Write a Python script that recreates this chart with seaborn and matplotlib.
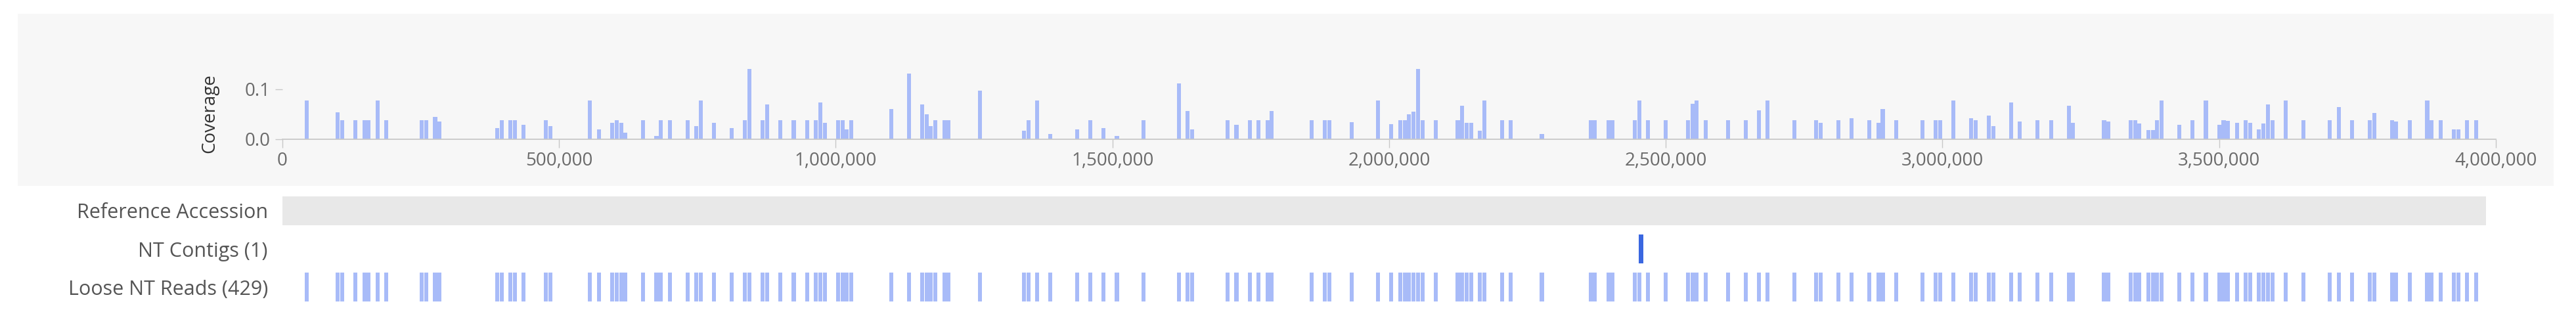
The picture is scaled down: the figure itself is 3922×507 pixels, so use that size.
import numpy as np
import pandas as pd
import matplotlib
matplotlib.use("Agg")
import matplotlib.pyplot as plt
import seaborn as sns
from matplotlib.ticker import FuncFormatter
from matplotlib.patches import Rectangle

# ---------------- data ----------------
# coverage bins: position (kb) and coverage value
cov_pos_kb = [41.5, 103, 110, 128, 145, 159, 169, 184, 255, 263, 279, 287,
              391, 399, 414, 422, 438, 478, 486, 557, 574, 596, 604, 612, 622,
              654, 675, 685, 702, 734, 751, 759, 783, 814, 838, 846, 870, 878,
              902, 926, 948, 966, 974, 982, 1005, 1012, 1019, 1029, 1101, 1133,
              1156, 1164, 1172, 1180, 1197, 1205, 1260, 1339, 1347, 1365, 1387,
              1436, 1459, 1483, 1508, 1555, 1619, 1635, 1643, 1707, 1723, 1746,
              1762, 1778, 1786, 1858, 1881, 1891, 1929, 1978, 2000, 2017, 2025,
              2034, 2041, 2049, 2057, 2081, 2120, 2129, 2137, 2145, 2161, 2169,
              2200, 2217, 2272, 2360, 2375, 2392, 2407, 2447, 2455, 2464, 2503,
              2542, 2550, 2559, 2568, 2615, 2647, 2670, 2687, 2735, 2774, 2782,
              2814, 2838, 2870, 2883, 2893, 2917, 2965, 2989, 2997, 3021, 3053,
              3061, 3085, 3092, 3125, 3141, 3172, 3196, 3228, 3236, 3292, 3300,
              3340, 3348, 3356, 3371, 3380, 3389, 3395, 3427, 3451, 3476, 3500,
              3506, 3514, 3531, 3547, 3555, 3571, 3578, 3586, 3595, 3619, 3651,
              3698, 3715, 3739, 3770, 3777, 3810, 3819, 3842, 3874, 3881, 3898,
              3922, 3931, 3944, 3962]
cov_val = [0.077, 0.054, 0.038, 0.038, 0.038, 0.038, 0.077, 0.038, 0.038, 0.038, 0.045, 0.035,
           0.023, 0.038, 0.038, 0.038, 0.029, 0.038, 0.026, 0.077, 0.020, 0.033, 0.038, 0.033, 0.013,
           0.038, 0.007, 0.038, 0.038, 0.038, 0.026, 0.077, 0.033, 0.023, 0.038, 0.141, 0.038, 0.070,
           0.038, 0.038, 0.038, 0.038, 0.074, 0.033, 0.038, 0.038, 0.020, 0.038, 0.061, 0.132,
           0.070, 0.050, 0.026, 0.038, 0.038, 0.038, 0.097, 0.017, 0.038, 0.077, 0.011,
           0.020, 0.038, 0.023, 0.007, 0.038, 0.112, 0.057, 0.020, 0.038, 0.029, 0.038,
           0.038, 0.038, 0.057, 0.038, 0.038, 0.038, 0.034, 0.077, 0.030, 0.038, 0.038,
           0.050, 0.055, 0.141, 0.038, 0.038, 0.038, 0.067, 0.033, 0.033, 0.017, 0.077,
           0.038, 0.038, 0.011, 0.038, 0.038, 0.038, 0.038, 0.038, 0.078, 0.038, 0.038,
           0.038, 0.071, 0.077, 0.038, 0.038, 0.038, 0.058, 0.077, 0.038, 0.038, 0.033,
           0.038, 0.042, 0.038, 0.033, 0.061, 0.038, 0.038, 0.038, 0.038, 0.077, 0.042,
           0.038, 0.048, 0.026, 0.074, 0.035, 0.038, 0.038, 0.067, 0.033, 0.038, 0.035,
           0.038, 0.038, 0.032, 0.018, 0.018, 0.038, 0.077, 0.029, 0.038, 0.077, 0.029,
           0.038, 0.037, 0.033, 0.038, 0.033, 0.020, 0.031, 0.070, 0.038, 0.077, 0.038,
           0.038, 0.064, 0.038, 0.038, 0.053, 0.038, 0.035, 0.038, 0.077, 0.038, 0.038,
           0.020, 0.020, 0.038, 0.038]

bin_width = 8000
x_ticks = [0, 500000, 1000000, 1500000, 2000000, 2500000, 3000000, 3500000, 4000000]
y_ticks = [0.0, 0.1]
track_labels = ["Reference Accession", "NT Contigs (1)", "Loose NT Reads (429)"]
accession_length = 3982000
contig_start = [2451000]
contig_end = [2459000]
read_pos_kb = cov_pos_kb  # loose reads sit where the coverage bins are

# ---------------- style ----------------
sns.set_theme(style="white")
plt.rcParams['font.family'] = ['Open Sans', 'DejaVu Sans']

W, H = 3923, 507
fig = plt.figure(figsize=(W / 100, H / 100), dpi=100)
fig.patch.set_facecolor("white")

# light panel behind coverage chart
fig.patches.append(Rectangle((27 / W, 1 - 283 / H), (3888 - 27) / W, (283 - 21) / H,
                             transform=fig.transFigure, facecolor="#f7f7f7",
                             edgecolor="none", zorder=-5))

bar_color = "#a8bbf8"
axis_gray = "#c8c8c8"
label_gray = "#6b6b6b"
bar_shrink = 0.9

# ---------------- coverage ----------------
ax = fig.add_axes([430 / W, 1 - 212 / H, 3370 / W, 114 / H])
ax.set_facecolor("none")
ax.set_zorder(2)
cov_df = pd.DataFrame({"pos": np.array(cov_pos_kb) * 1000, "cov": cov_val})
sns.histplot(data=cov_df, x="pos", weights="cov", binwidth=bin_width,
             binrange=(0, 4000000), color=bar_color, alpha=1, linewidth=0,
             shrink=bar_shrink, ax=ax)
ax.set_xlim(0, 4000000)
ax.set_ylim(0, 0.15)
ax.set_xticks(x_ticks)
ax.xaxis.set_major_formatter(FuncFormatter(lambda v, p: f"{int(v):,}"))
ax.set_yticks(y_ticks)
ax.set_yticklabels([f"{v:.1f}" for v in y_ticks])
for s in ["top", "right", "left"]:
    ax.spines[s].set_visible(False)
ax.spines["bottom"].set_color(axis_gray)
ax.spines["bottom"].set_linewidth(1.3)
ax.tick_params(axis="x", length=9, width=1, color=axis_gray, labelcolor=label_gray,
               labelsize=20, pad=5, bottom=True)
ax.tick_params(axis="y", length=8, width=1, color=axis_gray, labelcolor=label_gray,
               labelsize=20, pad=5, left=True)
ax.set_xlabel("")
ax.set_ylabel("")
fig.text(319 / W, 1 - 173 / H, "Coverage", rotation=90, ha="center", va="center",
         fontsize=20, color="#333333")

# ---------------- tracks ----------------
tax = fig.add_axes([430 / W, 1 - 466 / H, 3370 / W, 174 / H])
tax.set_facecolor("none")
tax.set_xlim(0, 4000000)
tax.set_ylim(2.5, -0.5)
bar_h = 0.76
tax.barh(0, accession_length, left=0, height=bar_h, color="#e8e8e8", linewidth=0)
cs = np.array(contig_start)
ce = np.array(contig_end)
tax.barh(np.ones(len(cs)), ce - cs, left=cs, height=bar_h, color="#3a67e0", linewidth=0)
read_w = bin_width * bar_shrink
read_left = np.floor(np.array(read_pos_kb) * 1000 / bin_width) * bin_width + (bin_width - read_w) / 2
tax.barh(np.full(len(read_left), 2), np.full(len(read_left), read_w), left=read_left,
         height=bar_h, color=bar_color, linewidth=0)
tax.set_yticks([0, 1, 2])
tax.set_yticklabels(track_labels)
tax.tick_params(axis="y", length=0, pad=16, labelsize=22, labelcolor="#555555")
tax.set_xticks([])
for s in tax.spines.values():
    s.set_visible(False)

fig.savefig("out.png", dpi=100, facecolor="white")
